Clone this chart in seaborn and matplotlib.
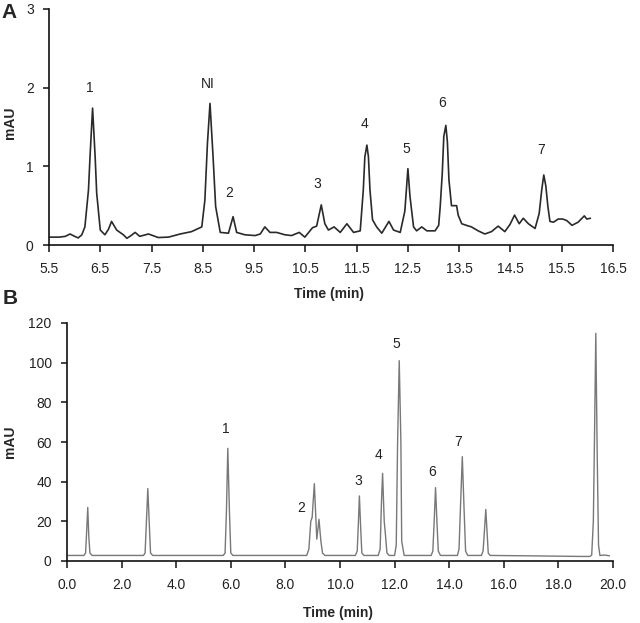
import numpy as np
import pandas as pd
import matplotlib
matplotlib.use("Agg")
import matplotlib.pyplot as plt
import seaborn as sns

# ---------------- Panel A data (time in min, signal in mAU) ----------------
time_a = [5.50, 5.70, 5.82, 5.91, 6.00, 6.07, 6.14, 6.20, 6.27, 6.30, 6.35, 6.40,
          6.43, 6.50, 6.59, 6.66, 6.72, 6.82, 6.95, 7.02, 7.10, 7.18, 7.27, 7.44,
          7.63, 7.83, 8.06, 8.28, 8.48, 8.54, 8.59, 8.64, 8.70, 8.75, 8.84, 9.00,
          9.09, 9.16, 9.32, 9.52, 9.62, 9.71, 9.81, 9.94, 10.10, 10.23, 10.38, 10.49,
          10.64, 10.72, 10.81, 10.88, 10.95, 11.06, 11.18, 11.31, 11.44, 11.57, 11.63,
          11.66, 11.70, 11.73, 11.76, 11.81, 11.89, 11.99, 12.13, 12.22, 12.35, 12.44,
          12.50, 12.54, 12.61, 12.67, 12.77, 12.87, 13.03, 13.10, 13.13, 13.17, 13.20,
          13.24, 13.27, 13.30, 13.35, 13.45, 13.48, 13.55, 13.64, 13.74, 13.87, 14.00,
          14.13, 14.26, 14.39, 14.49, 14.58, 14.67, 14.75, 14.85, 14.98, 15.06, 15.11,
          15.15, 15.19, 15.23, 15.27, 15.34, 15.43, 15.52, 15.60, 15.70, 15.82, 15.94,
          15.99, 16.06]
mau_a = [0.10, 0.10, 0.11, 0.14, 0.11, 0.09, 0.13, 0.23, 0.70, 1.12, 1.74, 1.12,
         0.66, 0.19, 0.13, 0.20, 0.30, 0.19, 0.13, 0.085, 0.12, 0.16, 0.11, 0.14,
         0.095, 0.10, 0.14, 0.17, 0.23, 0.57, 1.29, 1.80, 1.12, 0.49, 0.16, 0.15,
         0.36, 0.16, 0.13, 0.12, 0.14, 0.23, 0.16, 0.16, 0.13, 0.12, 0.16, 0.10,
         0.22, 0.24, 0.51, 0.27, 0.19, 0.23, 0.16, 0.27, 0.16, 0.18, 0.70,
         1.12, 1.27, 1.12, 0.70, 0.32, 0.23, 0.15, 0.30, 0.19, 0.16, 0.43,
         0.97, 0.62, 0.23, 0.18, 0.23, 0.18, 0.18, 0.25, 0.49, 0.91, 1.38,
         1.52, 1.31, 0.83, 0.50, 0.50, 0.38, 0.27, 0.25, 0.23, 0.18, 0.14,
         0.17, 0.24, 0.17, 0.26, 0.38, 0.27, 0.34, 0.27, 0.21, 0.40, 0.70,
         0.89, 0.75, 0.49, 0.30, 0.29, 0.33, 0.33, 0.31, 0.25, 0.29, 0.37,
         0.33, 0.34]
labels_a = ["1", "NI", "2", "3", "4", "5", "6", "7"]
label_x_a = [6.30, 8.59, 9.02, 10.73, 11.66, 12.46, 13.16, 15.10]
label_y_a = [1.99, 2.05, 0.66, 0.78, 1.54, 1.22, 1.80, 1.21]
xticks_a = [5.5, 6.5, 7.5, 8.5, 9.5, 10.5, 11.5, 12.5, 13.5, 14.5, 15.5, 16.5]
yticks_a = [0, 1, 2, 3]

# ---------------- Panel B data ----------------
time_b = [0.00, 0.62, 0.68, 0.71, 0.76, 0.80, 0.84, 0.92,
          2.80, 2.86, 2.91, 2.96, 3.01, 3.06, 3.14,
          5.72, 5.79, 5.84, 5.89, 5.95, 6.00, 6.08,
          8.78, 8.86, 8.93, 8.98, 9.06, 9.15, 9.23, 9.30, 9.36, 9.45,
          10.56, 10.63, 10.67, 10.71, 10.76, 10.80, 10.88,
          11.40, 11.47, 11.52, 11.56, 11.62, 11.66, 11.72, 11.80,
          12.00, 12.06, 12.11, 12.17, 12.23, 12.26, 12.35,
          13.34, 13.40, 13.45, 13.50, 13.55, 13.60, 13.68,
          14.30, 14.36, 14.42, 14.48, 14.54, 14.60, 14.68,
          15.18, 15.24, 15.29, 15.34, 15.39, 15.43, 15.50,
          17.00, 18.80, 19.15, 19.22, 19.28, 19.32, 19.37, 19.42, 19.47, 19.52,
          19.70, 19.87]
mau_b = [2.8, 2.8, 4, 12, 27, 12, 4, 2.8,
         2.8, 4, 20, 36.5, 20, 4, 2.8,
         2.8, 4, 25, 56.8, 25, 4, 2.8,
         2.8, 6, 20, 22, 39, 11, 21, 10, 4, 2.8,
         2.8, 5, 18, 32.8, 16, 4, 2.8,
         2.8, 6, 30, 44.2, 20, 14, 4, 2.8,
         2.8, 8, 60, 101, 60, 10, 2.8,
         2.8, 5, 20, 37, 20, 5, 2.8,
         2.8, 6, 30, 52.6, 28, 5, 2.8,
         2.8, 5, 15, 26, 14, 4, 2.8,
         2.6, 2.3, 2.3, 3, 20, 60, 114.8, 55, 8, 2.8,
         3.0, 2.6]
labels_b = ["1", "2", "3", "4", "5", "6", "7"]
label_x_b = [5.82, 8.57, 10.67, 11.42, 12.05, 13.38, 14.31]
label_y_b = [66.4, 26.9, 40.3, 53.5, 109.4, 45.0, 60.2]
xticks_b = [0, 2, 4, 6, 8, 10, 12, 14, 16, 18, 20]
yticks_b = [0, 20, 40, 60, 80, 100, 120]

sns.set_style("ticks")
plt.rcParams["font.family"] = ["Liberation Sans", "DejaVu Sans"]

fig = plt.figure(figsize=(6.40, 6.23), dpi=100)
axA = fig.add_axes([49 / 640, 1 - 245 / 623, 564 / 640, 236 / 623])
axB = fig.add_axes([67 / 640, 1 - 561 / 623, 546 / 640, 238 / 623])

dfA = pd.DataFrame({"time": time_a, "mAU": mau_a})
dfB = pd.DataFrame({"time": time_b, "mAU": mau_b})
sns.lineplot(data=dfA, x="time", y="mAU", ax=axA, color="#2a2a2a", linewidth=1.2,
             sort=False, estimator=None)
sns.lineplot(data=dfB, x="time", y="mAU", ax=axB, color="#787878", linewidth=1.0,
             sort=False, estimator=None)

tick_color = "#222222"
for ax, xt, yt, xl, yl, fmt in [
    (axA, xticks_a, yticks_a, (5.5, 16.5), (0, 3), "{:.1f}"),
    (axB, xticks_b, yticks_b, (0, 20), (0, 120), "{:.1f}"),
]:
    ax.set_xlim(*xl)
    ax.set_ylim(*yl)
    ax.set_xticks(xt)
    ax.set_xticklabels([fmt.format(v) for v in xt])
    ax.set_yticks(yt)
    ax.set_yticklabels([str(v) for v in yt])
    for s in ["top", "right"]:
        ax.spines[s].set_visible(False)
    for s in ["left", "bottom"]:
        ax.spines[s].set_linewidth(1.2)
        ax.spines[s].set_color("#111111")
    ax.tick_params(axis="x", direction="out", length=5, width=1.1, pad=7,
                   labelsize=10, colors="#111111", labelcolor=tick_color)
    ax.tick_params(axis="y", direction="out", length=4, width=1.1, pad=7,
                   labelsize=10, colors="#111111", labelcolor=tick_color)
    ax.set_xlabel("Time (min)", fontsize=10, fontweight="bold")
    ax.set_ylabel("mAU", fontsize=10, fontweight="bold")

axA.xaxis.set_label_coords(0.497, -0.178)
axA.yaxis.set_label_coords(-0.057, 0.517)
axB.xaxis.set_label_coords(0.497, -0.189)
axB.yaxis.set_label_coords(-0.092, 0.50)

for t, x, y in zip(labels_a, label_x_a, label_y_a):
    axA.text(x, y, t, ha="center", va="center", fontsize=10, color="#222222")
for t, x, y in zip(labels_b, label_x_b, label_y_b):
    axB.text(x, y, t, ha="center", va="center", fontsize=10, color="#222222")

fig.text(9 / 640, 1 - 13 / 623, "A", fontsize=15, fontweight="bold", ha="center", va="center")
fig.text(10 / 640, 1 - 298 / 623, "B", fontsize=15, fontweight="bold", ha="center", va="center")

fig.savefig("out.png", dpi=100)
